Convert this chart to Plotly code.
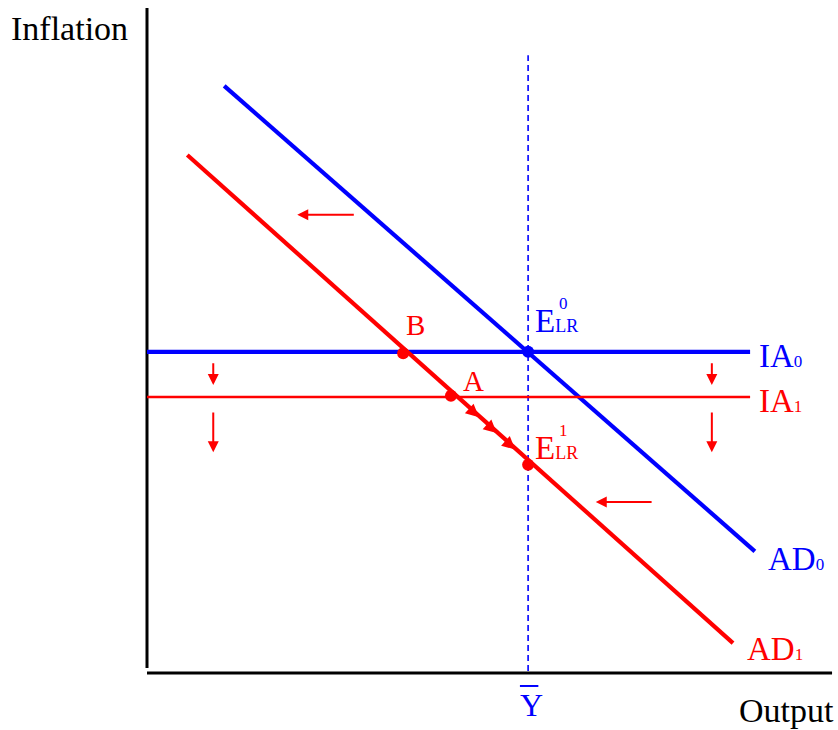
import plotly.graph_objects as go

# chart units: output on x (0..10), inflation on y (0..10)
ad0_x = [1.13, 8.90]
ad0_y = [8.83, 1.83]
ad1_x = [0.59, 8.58]
ad1_y = [7.79, 0.45]
ia_x = [0.0, 8.83]
ia0_y = 4.83
ia1_y = 4.15
ybar_x = 5.58
ybar_top = 9.29

# points: E_LR^0, B, A, E_LR^1
e0_pt = (5.58, 4.83)
b_pt = (3.75, 4.81)
a_pt = (4.45, 4.17)
e1_pt = (5.58, 3.13)

# shift arrows (tail -> head)
shift_x_arrows = [((3.05, 6.89), (2.20, 6.89)), ((7.41, 2.57), (6.57, 2.57))]
shift_y_arrows = [((0.97, 4.68), (0.97, 4.33)), ((0.97, 3.94), (0.97, 3.32)),
                  ((8.27, 4.68), (8.27, 4.33)), ((8.27, 3.94), (8.27, 3.32))]
path_tips_x = [4.86, 5.12, 5.39]

BLUE = "#0000FF"
RED = "#FF0000"
FONT = "Liberation Serif, Times New Roman, serif"

fig = go.Figure()

# axes
fig.add_trace(go.Scatter(x=[0, 0], y=[0.075, 10.0], mode="lines",
                         line=dict(color="black", width=3), hoverinfo="skip"))
fig.add_trace(go.Scatter(x=[0, 10.03], y=[0, 0], mode="lines",
                         line=dict(color="black", width=3), hoverinfo="skip"))

# potential output
fig.add_trace(go.Scatter(x=[ybar_x, ybar_x], y=[0.03, ybar_top], mode="lines",
                         line=dict(color=BLUE, width=1.6, dash="6px,4px")))

# curves
fig.add_trace(go.Scatter(x=ad0_x, y=ad0_y, mode="lines", line=dict(color=BLUE, width=4.2)))
fig.add_trace(go.Scatter(x=ia_x, y=[ia0_y, ia0_y], mode="lines", line=dict(color=BLUE, width=4.2)))
fig.add_trace(go.Scatter(x=ad1_x, y=ad1_y, mode="lines", line=dict(color=RED, width=4.2)))
fig.add_trace(go.Scatter(x=ia_x, y=[ia1_y, ia1_y], mode="lines", line=dict(color=RED, width=2.5)))

# points
fig.add_trace(go.Scatter(x=[e0_pt[0]], y=[e0_pt[1]], mode="markers",
                         marker=dict(color=BLUE, size=12)))
fig.add_trace(go.Scatter(x=[b_pt[0], a_pt[0], e1_pt[0]], y=[b_pt[1], a_pt[1], e1_pt[1]],
                         mode="markers", marker=dict(color=RED, size=12)))

anns = []
for (tx, ty), (hx, hy) in shift_x_arrows + shift_y_arrows:
    anns.append(dict(x=hx, y=hy, ax=tx, ay=ty, xref="x", yref="y", axref="x", ayref="y",
                     showarrow=True, arrowhead=2, arrowsize=1.1, arrowwidth=2,
                     arrowcolor=RED, text=""))

# arrowheads along AD1 from A toward E_LR^1
slope = (ad1_y[1] - ad1_y[0]) / (ad1_x[1] - ad1_x[0])
for tx in path_tips_x:
    ty = ad1_y[0] + slope * (tx - ad1_x[0]) - 0.02
    anns.append(dict(x=tx, y=ty, ax=tx - 0.15, ay=ty - slope * 0.15, xref="x", yref="y",
                     axref="x", ayref="y", showarrow=True, arrowhead=2, arrowsize=1.3,
                     arrowwidth=2, arrowcolor=RED, text=""))


def label(x, y, text, color, size=33, xanchor="left"):
    anns.append(dict(x=x, y=y, xref="x", yref="y", text=text, showarrow=False,
                     xanchor=xanchor, yanchor="middle",
                     font=dict(family=FONT, size=size, color=color)))


sub = "<span style='font-size:17px'>%s</span>"
sub_lr = "<span style='font-size:18px'>%s</span>"
label(-2.02, 9.69, "Inflation", "black", size=34)
label(8.64, -0.57, "Output", "black", size=34)
label(8.93, 4.77, "IA" + sub % "0", BLUE)
label(8.93, 4.09, "IA" + sub % "1", RED)
label(9.06, 1.71, "AD" + sub % "0", BLUE)
label(8.75, 0.36, "AD" + sub % "1", RED)
label(3.76, 5.23, "B", RED, size=29)
label(4.60, 4.39, "A", RED, size=29)
label(5.65, 5.29, "E" + sub_lr % "LR", BLUE)
label(6.10, 5.56, "0", BLUE, size=17, xanchor="center")
label(5.65, 3.38, "E" + sub_lr % "LR", RED)
label(6.10, 3.65, "1", RED, size=17, xanchor="center")
label(ybar_x + 0.05, -0.48, "Y", BLUE, size=32, xanchor="center")

fig.add_shape(type="line", x0=ybar_x - 0.12, x1=ybar_x + 0.15, y0=-0.195, y1=-0.195,
              xref="x", yref="y", line=dict(color=BLUE, width=2))

fig.update_layout(
    width=838, height=730,
    margin=dict(l=0, r=0, t=0, b=0),
    paper_bgcolor="white", plot_bgcolor="white",
    showlegend=False,
    annotations=anns,
    xaxis=dict(range=[-147 / 68.3, (838 - 147) / 68.3], visible=False, fixedrange=True),
    yaxis=dict(range=[-(730 - 673) / 66.5, 673 / 66.5], visible=False, fixedrange=True),
)

# the page body has a default margin; remove it so the figure sits at the window corner
fig.write_html("out.html", config={"displayModeBar": False},
               post_script="document.body.style.margin='0px';"
                           "document.body.style.overflow='hidden';")
